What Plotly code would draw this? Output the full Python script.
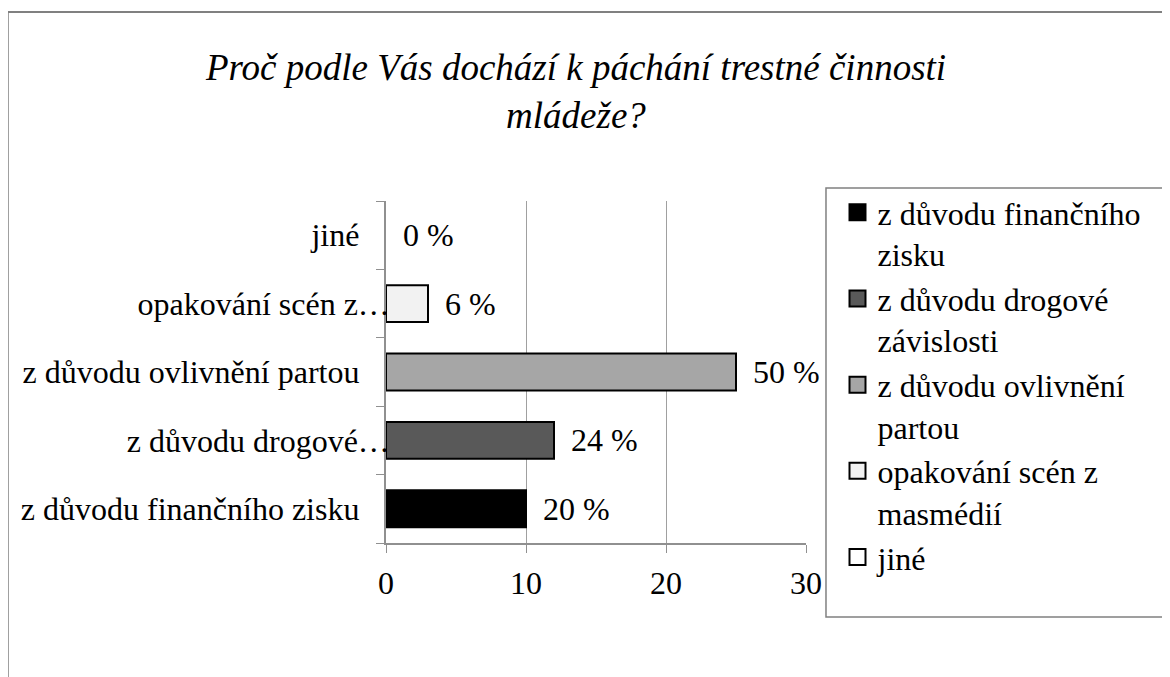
import plotly.graph_objects as go

# data
categories = [
    "z důvodu finančního zisku",
    "z důvodu drogové závislosti",
    "z důvodu ovlivnění partou",
    "opakování scén z masmédií",
    "jiné",
]
legend_names = [
    "z důvodu finančního<br>zisku",
    "z důvodu drogové<br>závislosti",
    "z důvodu ovlivnění<br>partou",
    "opakování scén z<br>masmédií",
    "jiné",
]
pad = "\u00a0\u00a0\u00a0\u2009"
tick_labels = [
    "z důvodu finančního zisku" + pad,
    "z důvodu drogové…",
    "z důvodu ovlivnění partou" + pad,
    "opakování scén z…",
    "jiné" + pad,
]
counts = [10, 12, 25, 3, 0]
percent_labels = ["20 %", "24 %", "50 %", "6 %", "0 %"]
colors = ["#000000", "#595959", "#a6a6a6", "#f2f2f2", "#ffffff"]

FONT = "Liberation Serif, Times New Roman, serif"

fig = go.Figure()
for cat, val, col in zip(categories, counts, colors):
    fig.add_trace(go.Bar(
        y=[cat], x=[val], orientation="h", width=0.54, showlegend=False,
        marker=dict(color=col, line=dict(color="#000000", width=2 if val else 0)),
    ))

# legend entries (bigger square keys than the default bar key)
for name, col in zip(legend_names, colors):
    fig.add_trace(go.Scatter(
        x=[None], y=[None], mode="markers", name=name,
        marker=dict(symbol="square", size=16, color=col,
                    line=dict(color="#000000", width=2)),
    ))

# percentage labels right of each bar
for cat, val, lab in zip(categories, counts, percent_labels):
    fig.add_annotation(x=val, y=cat, xref="x", yref="y", text=lab,
                       showarrow=False, xanchor="left", xshift=15,
                       font=dict(size=32, color="#000000", family=FONT))

# legend box and outer chart border
fig.add_shape(type="rect", xref="paper", yref="paper",
              x0=1.0476, x1=1.85, y0=-0.2164, y1=1.038,
              line=dict(color="#808080", width=1.5), fillcolor="rgba(0,0,0,0)")
fig.add_shape(type="line", xref="paper", yref="paper",
              x0=-0.9, x1=2.0, y0=1.5526, y1=1.5526,
              line=dict(color="#808080", width=2))
fig.add_shape(type="line", xref="paper", yref="paper",
              x0=-0.9, x1=-0.9, y0=1.5526, y1=-0.5,
              line=dict(color="#808080", width=1.5))

fig.update_layout(
    width=1162, height=669,
    margin=dict(l=378, r=364, t=193, b=134),
    paper_bgcolor="white", plot_bgcolor="white",
    barmode="overlay",
    font=dict(family=FONT, size=32, color="#000000"),
    title=dict(
        text="<i>Proč podle Vás dochází k páchání trestné činnosti<br>mládeže?</i>",
        x=0.4888, xanchor="center", y=0.892, yanchor="top",
        font=dict(size=37, family=FONT, color="#000000"),
    ),
    showlegend=True,
    legend=dict(
        x=1.075, y=1.047, xanchor="left", yanchor="top",
        traceorder="normal", valign="top", maxheight=500,
        bgcolor="rgba(0,0,0,0)", borderwidth=0,
        font=dict(size=32, family=FONT, color="#000000"),
    ),
    xaxis=dict(
        range=[0, 30], dtick=10, tick0=0,
        showgrid=True, gridcolor="#a0a0a0", gridwidth=1,
        showline=True, linecolor="#909090", linewidth=1.5,
        ticks="outside", ticklen=8, tickcolor="#909090",
        zeroline=False, ticklabelstandoff=3,
    ),
    yaxis=dict(
        type="category", categoryorder="array", categoryarray=categories,
        tickvals=categories, ticktext=tick_labels,
        showline=True, linecolor="#909090", linewidth=1.5,
        ticks="outside", ticklen=8, tickcolor="#909090",
        tickson="boundaries", showgrid=False, zeroline=False,
        ticklabelstandoff=-12,
    ),
)

fig.write_html("out.html")
